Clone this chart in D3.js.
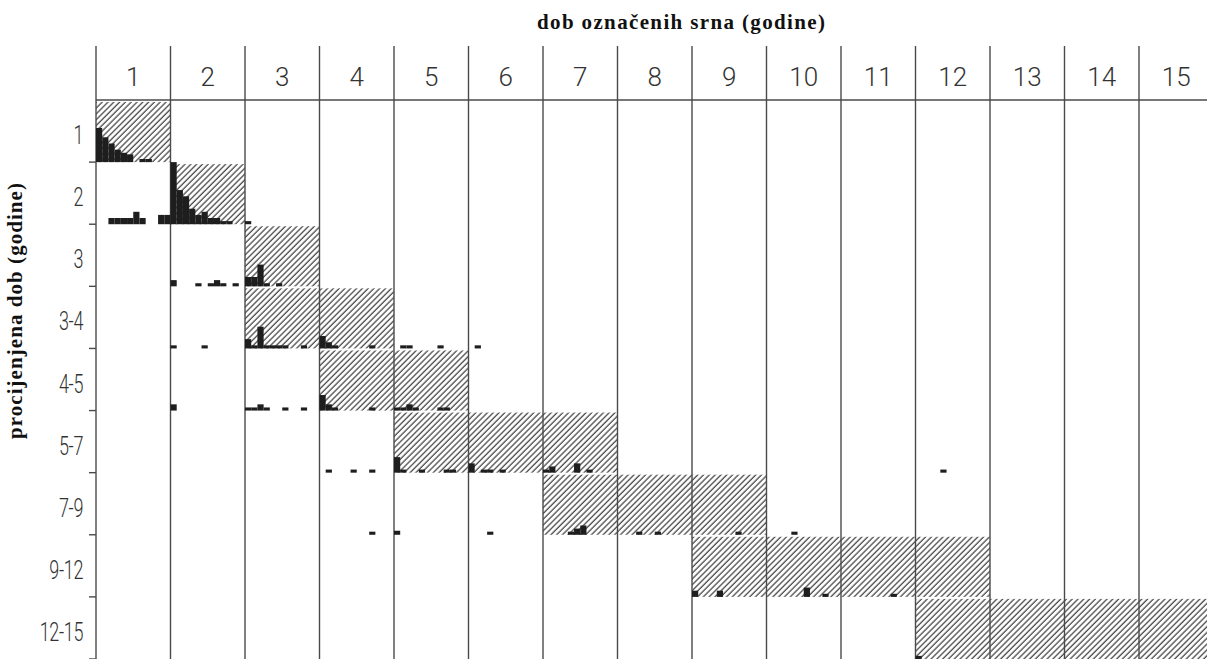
<!DOCTYPE html>
<html><head><meta charset="utf-8">
<script src="https://cdn.jsdelivr.net/npm/d3@7"></script>
<style>
html,body{margin:0;padding:0;background:#fff;}
svg{display:block;}
</style></head>
<body>
<svg id="chart" width="1207" height="659"></svg>
<script>
// ---------- data ----------
const title = "dob označenih srna (godine)";
const yTitle = "procijenjena dob (godine)";
const colLabels = ["1","2","3","4","5","6","7","8","9","10","11","12","13","14","15"];
const rowLabels = ["1","2","3","3-4","4-5","5-7","7-9","9-12","12-15"];
// hatched cells: true-age column range matching the estimate
const hatchFrom = [1,2,3,3,4,5,7,9,12];
const hatchTo   = [1,2,3,4,5,7,9,12,15];
// histogram bars per estimated-age row: [months since age 1, count]
const row1  = [[0,11],[1,8],[2,6],[3,4],[4,3],[5,2.5],[7,1],[8,1]];
const row2  = [[2,2],[3,2],[4,2],[5,2],[6,4],[7,2],[10,3],[11,3],[12,20],[13,11],[14,9],[15,5],[16,3],[17,4],[18,2],[19,2],[20,1],[21,1],[24,1]];
const row3  = [[12,2],[16,1],[18,1],[19,2],[20,1],[22,1],[24,3],[25,3],[26,7],[27,1],[29,1]];
const row34 = [[12,1],[17,1],[24,3],[25,1],[26,7],[27,1],[28,1],[29,1],[30,1],[33,1],[36,4],[37,2],[38,1],[44,1],[49,1],[50,1],[55,1],[61,1]];
const row45 = [[12,2],[24,1],[25,1],[26,2],[27,1],[30,1],[33,1],[36,5],[37,2],[38,1],[44,1],[48,1],[49,1],[50,2],[51,1],[55,1],[56,1]];
const row57 = [[37,1],[41,1],[44,1],[48,5],[49,1],[52,1],[56,1],[57,1],[60,3],[62,1],[63,1],[65,1],[72,1],[73,2],[77,3],[79,1],[136,1]];
const row79 = [[44,1],[48,1.3],[63,1],[76,1],[77,2],[78,3],[87,1],[90,1],[103,1],[112,1]];
const row912 = [[96,2],[100,2],[114,3],[117,1],[128,1]];
const row1215 = [[132,1]];
const rowCounts = [row1,row2,row3,row34,row45,row57,row79,row912,row1215];

// ---------- layout ----------
const W = 1207, H = 659;
const mLeft = 96, colW = 74.5, mTop = 100, mBottom = 659, lineTop = 46;
const svg = d3.select("#chart");
svg.append("rect").attr("width",W).attr("height",H).attr("fill","#fff");

const x = d3.scaleLinear().domain([0, colLabels.length*12]).range([mLeft, mLeft + colLabels.length*colW]);
const y = d3.scaleBand().domain(rowLabels).range([mTop, mBottom]).paddingInner(0).paddingOuter(0);
const h = d3.scaleLinear().domain([0, 20]).range([0, y.bandwidth()]);

// hatch pattern
const defs = svg.append("defs");
const pat = defs.append("pattern").attr("id","hatch").attr("patternUnits","userSpaceOnUse")
  .attr("width",4.1).attr("height",4.1).attr("patternTransform","rotate(45)");
pat.append("line").attr("x1",1).attr("y1",0).attr("x2",1).attr("y2",4.1)
  .attr("stroke","#4f4f4f").attr("stroke-width",1.35);

// hatched cells
svg.append("g").selectAll("rect").data(rowLabels).join("rect")
  .attr("x",(d,i)=>x((hatchFrom[i]-1)*12))
  .attr("y",d=>y(d)+2)
  .attr("width",(d,i)=>x(hatchTo[i]*12)-x((hatchFrom[i]-1)*12))
  .attr("height",y.bandwidth()-2)
  .attr("fill","url(#hatch)");

// grid: vertical column lines
const colEdges = d3.range(colLabels.length+1).map(i=>i*12);
svg.append("g").selectAll("line").data(colEdges).join("line")
  .attr("x1",d=>x(d)).attr("x2",d=>x(d))
  .attr("y1",lineTop).attr("y2",mBottom)
  .attr("stroke","#4a4a4a").attr("stroke-width",1.4);
// header line
svg.append("line").attr("x1",mLeft).attr("x2",W).attr("y1",mTop).attr("y2",mTop)
  .attr("stroke","#4a4a4a").attr("stroke-width",1.6);

// left ticks at row baselines
svg.append("g").selectAll("line").data(rowLabels).join("line")
  .attr("x1",mLeft-7).attr("x2",mLeft)
  .attr("y1",d=>y(d)+y.bandwidth()).attr("y2",d=>y(d)+y.bandwidth())
  .attr("stroke","#4a4a4a").attr("stroke-width",1.4);

// histogram bars
const barW = x(1)-x(0);
rowCounts.forEach((arr,i)=>{
  const base = y(rowLabels[i]) + y.bandwidth();
  svg.append("g").selectAll("rect").data(arr).join("rect")
    .attr("x",d=>x(d[0]))
    .attr("y",d=>base - h(d[1]))
    .attr("width",barW)
    .attr("height",d=>h(d[1]))
    .attr("fill","#1e1e1e");
});

// column labels
svg.append("g").selectAll("text").data(colLabels).join("text")
  .attr("x",(d,i)=>x(i*12+6))
  .attr("y",86)
  .attr("text-anchor","middle")
  .attr("font-family","Roboto, 'Noto Sans', sans-serif")
  .attr("font-weight",300)
  .attr("font-size",26)
  .attr("fill","#333")
  .text(d=>d);

// row labels (condensed)
svg.append("g").selectAll("text").data(rowLabels).join("text")
  .attr("transform",d=>`translate(83,${y(d)+y.bandwidth()/2+13}) scale(0.72,1)`)
  .attr("text-anchor","end")
  .attr("font-family","Roboto, 'Noto Sans', sans-serif")
  .attr("font-weight",300)
  .attr("font-size",25)
  .attr("letter-spacing",-0.5)
  .attr("fill","#333")
  .text(d=>d);

// titles
svg.append("text").attr("x",681).attr("y",29)
  .attr("text-anchor","middle")
  .attr("font-family","'Liberation Serif', serif").attr("font-weight","bold")
  .attr("font-size",21).attr("fill","#111")
  .attr("textLength",288).attr("lengthAdjust","spacing").text(title);
svg.append("text").attr("transform","translate(22,311) rotate(-90)")
  .attr("text-anchor","middle")
  .attr("font-family","'Liberation Serif', serif").attr("font-weight","bold")
  .attr("font-size",21).attr("fill","#111")
  .attr("textLength",256).attr("lengthAdjust","spacing").text(yTitle);
</script>
</body></html>
